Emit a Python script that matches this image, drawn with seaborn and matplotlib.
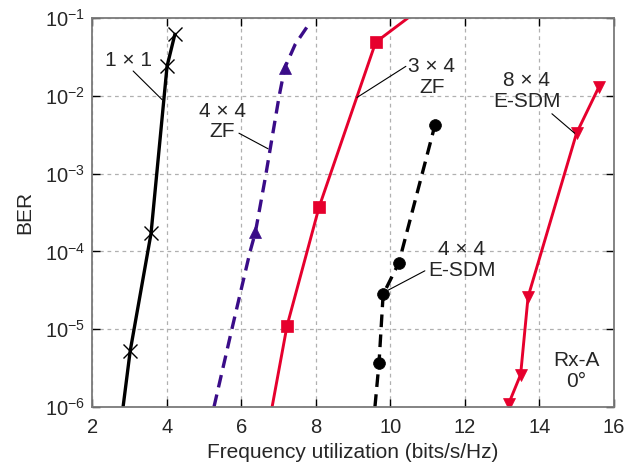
import numpy as np
import pandas as pd
import matplotlib
matplotlib.use("Agg")
import matplotlib.pyplot as plt
import seaborn as sns

# BER vs. frequency utilization curves (x in bits/s/Hz, y = BER)
x_1x1 = [2.83, 3.02, 3.58, 4.01, 4.22]
ber_1x1 = [1e-6, 5.2e-6, 1.7e-4, 2.4e-2, 6.2e-2]
mk_1x1 = [1, 2, 3, 4]

x_zf44 = [5.27, 5.75, 6.24, 6.38, 6.65, 7.02, 7.17, 7.45, 7.79]
ber_zf44 = [1e-6, 1e-5, 1e-4, 1.75e-4, 9e-4, 1e-2, 2.3e-2, 4.6e-2, 8.0e-2]
mk_zf44 = [3, 6]

x_zf34 = [6.83, 7.23, 8.09, 9.61, 10.47]
ber_zf34 = [1e-6, 1.1e-5, 3.7e-4, 4.9e-2, 1e-1]
mk_zf34 = [1, 2, 3]

x_esdm44 = [9.59, 9.70, 9.81, 10.23, 11.20]
ber_esdm44 = [1e-6, 3.7e-6, 2.8e-5, 7.1e-5, 4.2e-3]
mk_esdm44 = [1, 2, 3, 4]

x_esdm84 = [13.18, 13.50, 13.70, 15.00, 15.60]
ber_esdm84 = [1.1e-6, 2.6e-6, 2.6e-5, 3.3e-3, 1.3e-2]
mk_esdm84 = [0, 1, 2, 3, 4]

x_ticks = [2, 4, 6, 8, 10, 12, 14, 16]
y_ticks = [1e-6, 1e-5, 1e-4, 1e-3, 1e-2, 1e-1]

RED = "#E6002D"
PURPLE = "#3A0C88"

sns.set_theme(style="ticks")
plt.rcParams["font.family"] = ["Liberation Sans", "DejaVu Sans"]
plt.rcParams["mathtext.fontset"] = "custom"
plt.rcParams["mathtext.rm"] = "Liberation Sans"
plt.rcParams["mathtext.it"] = "Liberation Sans:italic"
plt.rcParams["mathtext.bf"] = "Liberation Sans:bold"

fig = plt.figure(figsize=(6.4, 4.65), dpi=100)
ax = fig.add_axes([0.144, 0.125, 0.815, 0.836])

dashed = (0, (3.8, 2.2))
series = [
    (x_1x1, ber_1x1, mk_1x1, "black", "-", "x", 10, 2.4),
    (x_zf44, ber_zf44, mk_zf44, PURPLE, dashed, "^", 8, 2.4),
    (x_zf34, ber_zf34, mk_zf34, RED, "-", "s", 8.5, 2.1),
    (x_esdm44, ber_esdm44, mk_esdm44, "black", dashed, "o", 8.5, 2.4),
    (x_esdm84, ber_esdm84, mk_esdm84, RED, "-", "v", 8, 2.1),
]
for xs, ys, mk, col, ls, m, ms, lw in series:
    df = pd.DataFrame({"x": xs, "ber": ys})
    sns.lineplot(data=df, x="x", y="ber", ax=ax, estimator=None, sort=False,
                 color=col, linestyle=ls, linewidth=lw, marker=m, markersize=ms,
                 markevery=mk, markeredgecolor=col, markerfacecolor=col,
                 markeredgewidth=1.0 if m == "x" else 0.5)

ax.set_yscale("log")
ax.set_xlim(2, 16)
ax.set_ylim(1e-6, 1e-1)
ax.set_xticks(x_ticks)
ax.set_xticklabels([str(t) for t in x_ticks])
ax.set_yticks(y_ticks)
ax.yaxis.set_minor_locator(matplotlib.ticker.NullLocator())
ax.grid(True, which="major", color="#b0b0b0", linestyle=(0, (3, 3)), linewidth=0.9)
ax.tick_params(which="major", direction="in", length=6, width=1.0, top=True, right=True,
               labelsize=14.5, color="black", pad=5)
ax.tick_params(axis="x", pad=8)
for sp in ax.spines.values():
    sp.set_color("#7a7a7a")
    sp.set_linewidth(1.3)
ax.set_xlabel("Frequency utilization (bits/s/Hz)", fontsize=15, labelpad=4)
ax.set_ylabel("BER", fontsize=15, labelpad=8)

fs = 15
leader = dict(arrowstyle="-", color="black", lw=0.8, shrinkA=0, shrinkB=0)

def lbl(text, x, logy):
    ax.text(x, 10 ** logy, text, fontsize=fs, ha="center", va="center",
            linespacing=1.1)

def lead(x0, ly0, x1, ly1):
    ax.annotate("", xy=(x1, 10 ** ly1), xytext=(x0, 10 ** ly0), arrowprops=leader)

lbl("1 × 1", 2.97, -1.54)
lead(3.10, -1.68, 3.88, -2.05)

lbl("4 × 4\nZF", 5.49, -2.33)
lead(5.94, -2.48, 6.72, -2.68)

lbl("3 × 4\nZF", 11.12, -1.76)
lead(10.42, -1.62, 9.11, -2.02)

lbl("8 × 4\nE-SDM", 13.66, -1.94)
lead(14.34, -2.23, 14.95, -2.48)

lbl("4 × 4\nE-SDM", 11.92, -4.11)
lead(10.93, -4.25, 9.94, -4.50)

lbl("Rx-A\n0°", 15.0, -5.54)

fig.savefig("out.png", dpi=100)
